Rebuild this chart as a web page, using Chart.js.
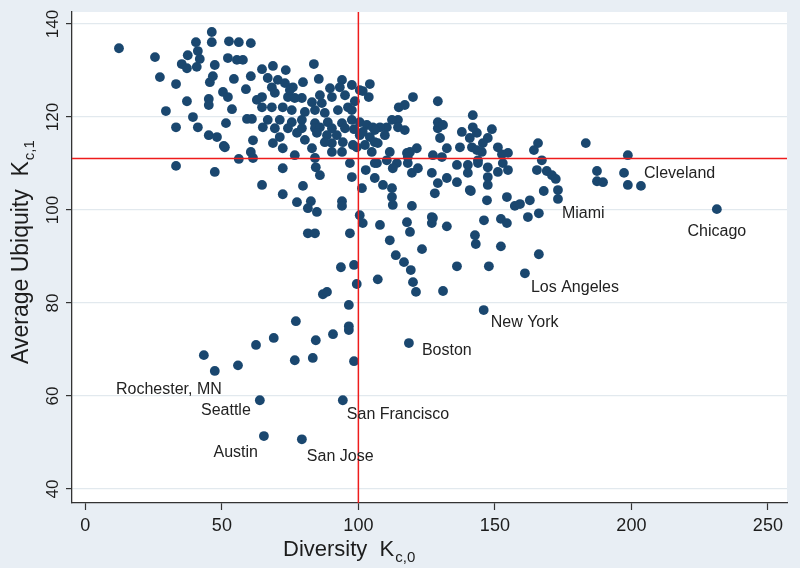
<!DOCTYPE html>
<html><head><meta charset="utf-8">
<style>html,body{margin:0;padding:0;background:#e8eef4;}canvas{display:block;}</style>
<script src="https://cdn.jsdelivr.net/npm/chart.js@4.4.1/dist/chart.umd.min.js"></script>
</head><body>
<canvas id="c" width="800" height="568"></canvas>
<script>
const diversity=[
12.3,25.5,27.3,33.2,29.5,37.2,37.5,35.3,37.2,40.5,
41.2,41.9,40.8,46.3,46.3,47.4,45.6,46.7,50.4,45.2,
45.2,39.4,33.2,41.2,51.5,52.2,45.2,48.2,50.7,33.2,
47.4,52.6,56.2,60.6,55.5,57.7,54.4,60.6,58.8,52.2,
53.7,59.2,61.0,64.7,68.7,73.4,79.7,83.7,85.5,94.0,
97.6,66.8,70.5,68.3,73.1,76.0,64.7,69.4,74.2,79.3,
83.0,86.6,90.3,93.2,95.1,64.7,68.3,72.3,75.6,80.4,
84.1,87.7,92.5,96.2,66.8,71.2,75.6,79.3,84.1,88.8,
94.0,97.6,65.0,69.4,74.2,79.3,84.1,90.3,95.1,104.2,
101.6,103.8,98.7,120.0,114.8,117.0,114.5,114.5,110.4,107.9,
76.7,85.9,100.5,103.1,105.3,77.5,84.8,88.5,92.1,94.3,
100.5,104.2,107.1,102.4,104.9,99.4,76.7,83.0,84.1,90.3,
94.0,96.9,106.8,110.4,117.8,121.4,114.1,118.1,61.4,68.7,
72.3,90.3,98.0,51.1,60.6,61.4,56.2,84.4,85.9,72.3,
64.7,79.7,72.3,77.5,82.6,81.5,84.8,94.0,94.0,97.6,
81.5,84.1,98.4,101.6,106.0,106.0,111.5,129.1,129.9,132.4,
137.9,140.8,143.4,137.2,141.6,118.9,118.1,127.3,130.6,102.7,
106.0,112.6,119.6,121.8,126.9,129.1,132.4,136.1,140.1,140.1,
143.8,136.1,140.8,128.0,101.3,106.0,109.0,112.3,112.3,112.6,
119.6,100.5,101.6,107.9,117.8,118.9,126.9,126.9,132.4,142.7,
100.5,129.1,141.9,129.1,131.0,141.9,148.9,147.4,145.6,143.4,
145.2,151.1,152.6,154.8,165.8,164.3,167.2,183.3,143.8,147.4,
151.1,154.8,152.9,147.4,147.4,165.4,169.0,170.9,172.3,173.1,
167.9,187.4,187.4,189.6,147.1,154.4,162.8,198.7,197.3,198.7,
203.5,231.3,141.2,157.3,159.2,173.1,166.1,162.1,127.3,146.0,
152.2,154.4,123.3,143.0,152.2,166.1,136.1,147.8,161.0,131.0,
96.9,93.6,98.4,99.4,87.0,88.5,96.5,77.1,84.4,90.7,
96.5,96.5,69.0,62.5,43.4,47.4,55.9,76.7,83.3,98.4,
94.3,79.3,65.4,63.9,107.1,113.7,116.7,119.2,120.0,121.1,
118.5,145.9,111.5,71.2,80.4,87.7,74.9,89.6,85.9,97.6,
62.8,112.3,109.7,117.0
];
const avgUbiquity=[
134.8,132.9,128.6,127.1,121.3,123.4,133.3,131.4,130.5,136.1,
134.2,132.5,130.8,138.3,136.1,131.2,127.5,128.8,125.4,123.9,
122.6,120.0,117.8,117.8,118.7,132.7,116.1,115.7,113.8,109.5,
108.2,136.3,136.1,135.9,132.3,132.3,128.2,128.8,126.0,124.3,
121.7,119.6,119.6,130.3,131.0,130.1,127.5,131.4,128.2,128.0,
126.9,128.4,128.0,126.4,127.3,126.4,124.3,125.2,124.3,124.1,
123.2,123.0,124.3,126.4,124.7,122.1,122.1,122.1,121.5,121.1,
121.5,120.9,121.5,122.1,119.4,119.4,118.9,119.4,118.7,118.9,
118.7,119.4,117.8,117.6,117.6,117.6,117.6,117.6,117.6,127.1,
125.6,124.3,123.4,124.3,122.1,122.6,119.4,117.8,117.8,117.8,
124.1,117.8,118.9,118.3,117.8,116.6,116.6,116.1,116.1,114.6,
116.1,115.7,114.4,114.0,112.5,113.5,111.8,113.3,111.2,112.5,
112.5,110.1,110.1,110.7,112.3,113.3,110.1,110.1,115.0,114.4,
113.3,114.4,114.0,113.5,112.5,111.2,111.0,109.2,107.5,109.0,
105.4,105.2,103.4,101.7,101.9,100.4,99.6,101.9,100.9,107.1,
95.0,95.0,117.4,116.8,117.2,114.6,112.5,117.6,115.5,113.3,
116.8,115.5,116.6,113.5,113.5,112.5,111.4,111.8,111.4,108.6,
110.1,109.0,108.0,109.0,108.0,105.8,106.9,109.7,109.7,108.0,
110.1,106.0,104.3,103.6,104.7,106.9,105.4,104.7,102.8,101.1,
100.9,98.9,97.2,96.8,97.4,95.3,98.5,97.2,96.5,94.6,
125.8,123.4,120.4,118.9,118.3,117.8,117.4,115.5,114.4,112.9,
112.5,113.5,112.0,112.3,114.4,112.9,110.7,114.4,110.7,109.2,
108.2,108.6,110.1,107.1,105.4,108.6,108.4,107.5,106.7,104.3,
104.1,108.4,106.2,106.0,102.1,102.8,102.1,111.8,108.0,105.4,
105.2,100.2,104.1,100.9,101.3,102.4,99.3,98.5,98.3,97.8,
98.1,97.2,91.6,92.7,92.2,90.5,87.9,87.9,86.4,82.6,
95.0,87.7,88.2,84.1,81.9,82.4,79.6,76.1,72.0,73.3,
75.0,74.2,72.5,71.0,68.8,65.4,66.6,67.7,68.2,67.5,
59.1,50.7,51.4,59.1,85.1,90.3,88.8,87.1,84.5,82.4,
71.4,78.5,93.5,115.7,115.1,114.6,125.8,126.2,124.7,121.5,
123.7,119.4,116.1,117.2
];
const xTicks=[0,50,100,150,200,250];
const yTicks=[40,60,80,100,120,140];
const refDiversity=100;
const refUbiquity=111.1;
const cityNames=['Cleveland','Chicago','Miami','Los Angeles','New York','Boston','San Francisco','San Jose','Austin','Seattle','Rochester, MN'];
const cityDiversity=[197.3,231.3,173.1,161.0,145.9,118.5,94.3,79.3,65.4,63.9,47.4];
const cityUbiquity=[108.0,100.2,102.4,86.4,78.5,71.4,59.1,50.7,51.4,59.1,65.4];
const cityLabelStyle=[
 {align:'left',dx:20,dy:1},{align:'center',dx:0,dy:22},{align:'left',dx:4,dy:15},
 {align:'left',dx:6,dy:14},{align:'left',dx:7,dy:13},{align:'left',dx:13,dy:8},
 {align:'left',dx:4,dy:14},{align:'left',dx:5,dy:17},{align:'right',dx:-6,dy:17},
 {align:'right',dx:-9,dy:10},{align:'right',dx:7,dy:19}
];

const FONT='"Liberation Sans", Arial, Helvetica, sans-serif';
const INK='#1c1c1c';
const points=diversity.map((x,i)=>({x:x,y:avgUbiquity[i]}));

const decor={
 id:'decor',
 beforeDraw(chart){
  const {ctx,chartArea:a}=chart;
  ctx.save();
  ctx.fillStyle='#e8eef4';ctx.fillRect(0,0,chart.width,chart.height);
  ctx.fillStyle='#ffffff';ctx.fillRect(a.left,a.top,a.right-a.left,a.bottom-a.top);
  ctx.restore();
 },
 afterDatasetsDraw(chart){
  const {ctx,chartArea:a,scales}=chart;
  const xs=scales.x, ys=scales.y;
  ctx.save();
  ctx.strokeStyle='#ee1c1c';ctx.lineWidth=1.5;
  const px=xs.getPixelForValue(refDiversity), py=ys.getPixelForValue(refUbiquity);
  ctx.beginPath();ctx.moveTo(px,a.top);ctx.lineTo(px,a.bottom);ctx.stroke();
  ctx.beginPath();ctx.moveTo(a.left,py);ctx.lineTo(a.right,py);ctx.stroke();
  ctx.restore();
 },
 afterDraw(chart){
  const {ctx,chartArea:a,scales}=chart;
  const xs=scales.x, ys=scales.y;
  ctx.save();
  ctx.fillStyle=INK;
  ctx.font='18px '+FONT;ctx.textAlign='center';ctx.textBaseline='alphabetic';
  xTicks.forEach(v=>ctx.fillText(String(v),xs.getPixelForValue(v),531));
  ctx.font='17px '+FONT;
  yTicks.forEach(v=>{
   ctx.save();ctx.translate(58,ys.getPixelForValue(v));ctx.rotate(-Math.PI/2);
   ctx.textAlign='center';ctx.fillText(String(v),0,0);ctx.restore();
  });
  ctx.textAlign='left';
  ctx.font='22px '+FONT;
  const xt='Diversity  K';
  ctx.fillText(xt,283,556);
  let w=ctx.measureText(xt).width;
  ctx.font='15px '+FONT;ctx.fillText('c,0',283+w+1,562);
  ctx.save();ctx.translate(28,364);ctx.rotate(-Math.PI/2);
  ctx.font='23px '+FONT;
  const yt='Average Ubiquity  K';
  ctx.fillText(yt,0,0);
  w=ctx.measureText(yt).width;
  ctx.font='15px '+FONT;ctx.fillText('c,1',w+1,6);
  ctx.restore();
  ctx.font='16px '+FONT;ctx.textBaseline='middle';ctx.fillStyle='#222';
  cityNames.forEach((n,i)=>{
   const s=cityLabelStyle[i];
   const px=xs.getPixelForValue(cityDiversity[i]), py=ys.getPixelForValue(cityUbiquity[i]);
   ctx.textAlign=s.align;ctx.fillText(n,px+s.dx,py+s.dy);
  });
  ctx.restore();
 }
};

new Chart(document.getElementById('c'),{
 type:'scatter',
 data:{datasets:[{data:points,backgroundColor:'#1a476f',borderWidth:0,pointRadius:4.9,pointHoverRadius:4.9}]},
 options:{
  responsive:false,animation:false,devicePixelRatio:1,
  layout:{padding:{left:0,top:12,right:13,bottom:0}},
  plugins:{legend:{display:false},tooltip:{enabled:false}},
  events:[],
  scales:{
   x:{type:'linear',min:-4.9,max:257,
      afterBuildTicks:s=>{s.ticks=xTicks.map(v=>({value:v}));},
      afterFit:s=>{s.height=65;},
      ticks:{display:false},
      grid:{drawOnChartArea:false,drawTicks:true,tickLength:7,tickColor:'#333',tickWidth:1.2},
      border:{display:true,color:'#333',width:1.3}},
   y:{type:'linear',min:37,max:142.6,
      afterBuildTicks:s=>{s.ticks=yTicks.map(v=>({value:v}));},
      afterFit:s=>{s.width=72;},
      ticks:{display:false},
      grid:{drawOnChartArea:true,color:'#e2e9ee',lineWidth:1.2,drawTicks:true,tickLength:6,tickColor:'#333',tickWidth:1.2},
      border:{display:true,color:'#333',width:1.3}}
  }
 },
 plugins:[decor]
});
</script>
</body></html>
